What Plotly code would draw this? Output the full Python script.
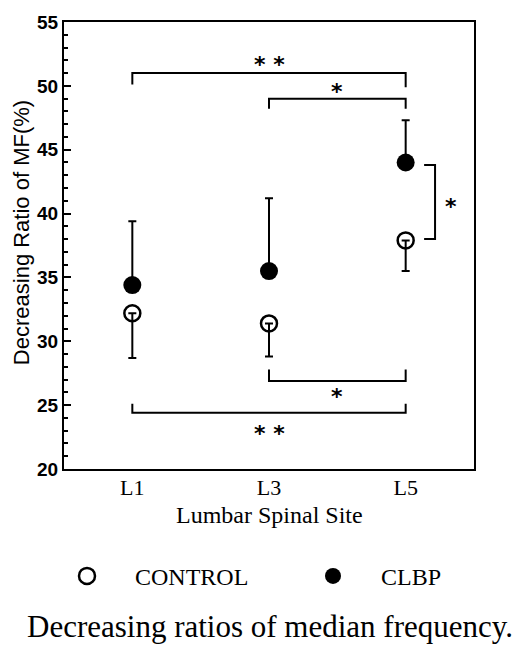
import plotly.graph_objects as go

# ---- data ----
sites = ["L1", "L3", "L5"]
site_pos = [0, 1, 2]
control_mean = [32.2, 31.4, 37.9]
control_sd_down = [3.5, 2.6, 2.4]
clbp_mean = [34.4, 35.5, 44.0]
clbp_sd_up = [5.0, 5.7, 3.3]

# significance brackets (x in site units, y in %)
brackets = [
    ([0, 0, 2, 2], [50.1, 51.0, 51.0, 49.9]),
    ([1, 1, 2, 2], [48.2, 49.0, 49.0, 48.2]),
    ([2.135, 2.215, 2.215, 2.135], [43.8, 43.8, 38.0, 38.0]),
    ([1, 1, 2, 2], [27.8, 26.9, 26.9, 27.8]),
    ([0, 0, 2, 2], [25.1, 24.4, 24.4, 25.1]),
]
star_x = [1.0, 1.5, 2.33, 1.5, 1.0]
star_y = [51.9, 49.8, 40.8, 25.9, 23.0]
star_text = ["* *", "*", "*", "*", "* *"]

fig = go.Figure()

fig.add_trace(go.Scatter(
    x=site_pos, y=control_mean, mode="markers", name="CONTROL",
    marker=dict(symbol="circle-open", size=16, color="black", line=dict(width=2.5, color="black")),
    error_y=dict(type="data", symmetric=False, array=[0, 0, 0], arrayminus=control_sd_down,
                 color="black", thickness=2, width=4),
    legend="legend",
))
fig.add_trace(go.Scatter(
    x=site_pos, y=clbp_mean, mode="markers", name="CLBP",
    marker=dict(symbol="circle", size=18, color="black"),
    error_y=dict(type="data", symmetric=False, array=clbp_sd_up, arrayminus=[0, 0, 0],
                 color="black", thickness=2, width=4),
    legend="legend2",
))

for bx, by in brackets:
    fig.add_trace(go.Scatter(x=bx, y=by, mode="lines", showlegend=False,
                             line=dict(color="black", width=2), hoverinfo="skip"))

for sx, sy, st in zip(star_x, star_y, star_text):
    fig.add_annotation(x=sx, y=sy, xref="x", yref="y", text=st, showarrow=False,
                       font=dict(family="DejaVu Sans", size=22, color="black", weight="bold"),
                       xanchor="center", yanchor="middle", yshift=-3)

# axis titles and caption as annotations
fig.add_annotation(x=-0.102, y=0.528, xref="paper", yref="paper",
                   text="Decreasing Ratio of MF(%)", textangle=-90, showarrow=False,
                   font=dict(family="Liberation Sans", size=22, color="black"),
                   xanchor="center", yanchor="middle")
fig.add_annotation(x=0.5, y=(469 - 515) / 450, xref="paper", yref="paper",
                   text="Lumbar Spinal Site", showarrow=False,
                   font=dict(family="Liberation Serif", size=24, color="black"),
                   xanchor="center", yanchor="middle")
fig.add_annotation(x=(270 - 64) / 410, y=(469 - 628) / 450, xref="paper", yref="paper",
                   text="Decreasing ratios of median frequency.", showarrow=False,
                   font=dict(family="Liberation Serif", size=31, color="black"),
                   xanchor="center", yanchor="middle")

legend_font = dict(family="Liberation Serif", size=24, color="black")
fig.update_layout(
    width=515, height=649,
    margin=dict(l=64, r=41, t=19, b=180),
    paper_bgcolor="white", plot_bgcolor="white",
    showlegend=True,
    legend=dict(x=(39 - 64) / 410, y=(469 - 577) / 450, xanchor="left", yanchor="middle",
                orientation="h", itemwidth=86, font=legend_font, bgcolor="rgba(0,0,0,0)"),
    legend2=dict(x=(285 - 64) / 410, y=(469 - 577) / 450, xanchor="left", yanchor="middle",
                 orientation="h", itemwidth=86, font=legend_font, bgcolor="rgba(0,0,0,0)"),
    xaxis=dict(range=[-0.5, 2.5], tickvals=site_pos, ticktext=sites, ticks="",
               ticklabelstandoff=-2,
               showline=True, linecolor="black", linewidth=2, mirror=True,
               showgrid=False, zeroline=False,
               tickfont=dict(family="Liberation Serif", size=22, color="black")),
    yaxis=dict(range=[20, 55], tickmode="linear", tick0=20, dtick=5,
               ticks="inside", ticklen=7, tickwidth=2, tickcolor="black",
               minor=dict(tickmode="linear", tick0=20, dtick=1, ticks="inside", ticklen=4,
                          tickwidth=1.5, tickcolor="black"),
               showline=True, linecolor="black", linewidth=2, mirror=True,
               showgrid=False, zeroline=False,
               tickfont=dict(family="Liberation Sans", size=19, color="black", weight="bold")),
)

fig.write_html("out.html")
